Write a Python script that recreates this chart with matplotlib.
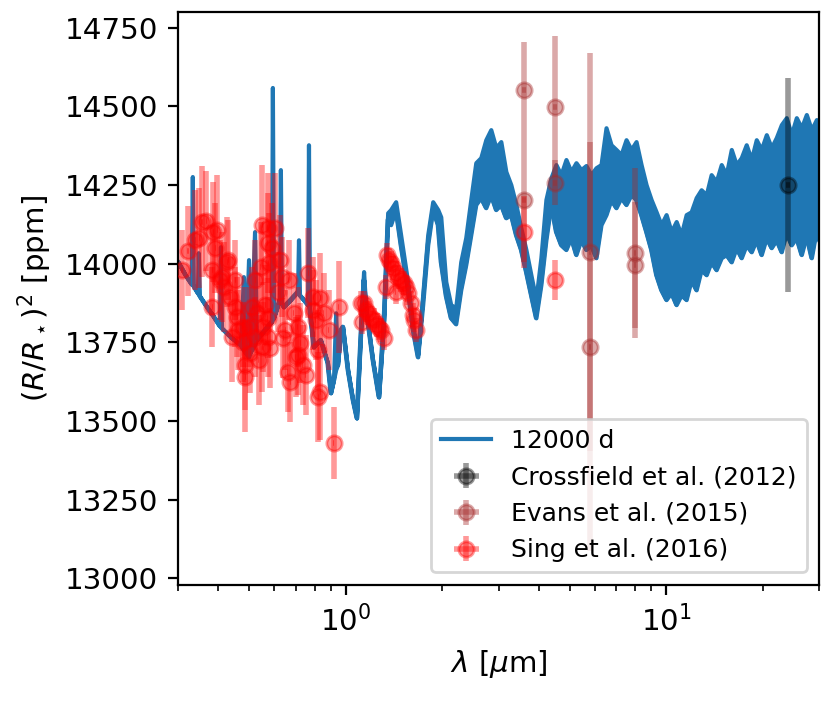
import numpy as np
import matplotlib.pyplot as plt

# model spectrum: wavelength [um], lower and upper envelope [ppm]
model_wl = [0.300, 0.316, 0.330, 0.3325, 0.335, 0.345, 0.347, 0.350, 0.365, 0.384,
            0.404, 0.407, 0.410, 0.437, 0.470, 0.480, 0.487, 0.498, 0.505, 0.520,
            0.527, 0.550, 0.566, 0.587, 0.591, 0.596, 0.622, 0.626, 0.631, 0.640,
            0.673, 0.708, 0.713, 0.718, 0.739, 0.761, 0.766, 0.772, 0.794, 0.835,
            0.878, 0.898, 0.917, 0.931, 0.944, 0.965, 0.979, 1.015, 1.052, 1.082,
            1.114, 1.138, 1.155, 1.214, 1.268, 1.315, 1.353, 1.382, 1.433, 1.485,
            1.563, 1.620, 1.679, 1.740, 1.804, 1.870, 1.939,
            1.981, 2.054, 2.128, 2.206, 2.287, 2.371, 2.458, 2.548, 2.641, 2.738,
            2.838, 2.943, 3.050, 3.162, 3.278, 3.398, 3.522, 3.652, 3.785, 3.924,
            4.067, 4.217, 4.371, 4.531, 4.697, 4.870, 5.048, 5.233, 5.425, 5.623,
            5.829, 6.043, 6.264, 6.494, 6.732, 6.978, 7.234, 7.499, 7.774, 8.058,
            8.354, 8.660, 8.977, 9.306, 9.647, 10.00, 10.37, 10.75, 11.14, 11.55,
            11.97, 12.41, 12.86, 13.34, 13.82, 14.33, 14.86, 15.40, 15.97, 16.55,
            17.16, 17.78, 18.44, 19.11, 19.81, 20.54, 21.29, 22.07, 22.88, 23.71,
            24.58, 25.48, 26.42, 27.38, 28.39, 29.43, 30.00]
model_lo = [14006, 13965, 13936, 13933, 13930, 13908, 13905, 13898, 13870, 13838,
            13803, 13800, 13796, 13768, 13742, 13727, 13717, 13704, 13720, 13742,
            13758, 13781, 13796, 13816, 13822, 13828, 13886, 13886, 13876, 13863,
            13886, 13911, 13917, 13901, 13886, 13870, 13886, 13854, 13736, 13758,
            13685, 13590, 13631, 13663, 13679, 13790, 13800, 13663, 13568, 13510,
            13776, 13949, 13863, 13695, 13577, 13822, 14140, 14124, 14172, 14060,
            13917, 13790, 13704, 13870, 14060, 14172, 14124,
            14006, 13898, 13828, 13809, 13917, 13997, 14092, 14188, 14210, 14178,
            14219, 14172, 14188, 14146, 14156, 14092, 14045, 13975, 13901, 13828,
            13933, 14076, 14188, 14102, 14060, 14045, 14083, 14029, 14076, 14045,
            14060, 14019, 14124, 14156, 14204, 14178, 14210, 14188, 14219, 14204,
            14156, 14102, 14045, 13965, 13917, 13886, 13908, 13870, 13901, 13886,
            13949, 13917, 13981, 13965, 14006, 13981, 14019, 14029, 14006, 14051,
            14019, 14060, 14038, 14076, 14029, 14083, 14051, 14076, 14038, 14099,
            14060, 14083, 14029, 14089, 14019, 14108, 14076]
model_hi = [14006, 13965, 13936, 14277, 13930, 13908, 14035, 13898, 13870, 13838,
            13803, 14054, 13796, 13768, 13742, 13959, 13717, 14013, 13720, 14102,
            13758, 13781, 13796, 13816, 14560, 13828, 13886, 14299, 13876, 13863,
            13886, 13911, 14076, 13901, 13886, 13870, 14378, 13854, 13736, 13758,
            13685, 13590, 13631, 13844, 13679, 13790, 13800, 13663, 13568, 13510,
            13790, 13975, 13863, 13695, 13577, 13822, 14162, 14172, 14197, 14092,
            13940, 13806, 13711, 13901, 14092, 14197, 14172,
            14149, 13943, 13870, 13860, 14006, 14083, 14204, 14321, 14337, 14394,
            14426, 14369, 14388, 14293, 14251, 14188, 14114, 14045, 13965, 13886,
            14019, 14204, 14273, 14315, 14283, 14331, 14293, 14321, 14299, 14312,
            14283, 14305, 14315, 14432, 14378, 14363, 14347, 14394, 14363, 14388,
            14315, 14251, 14204, 14165, 14124, 14156, 14102, 14134, 14092, 14156,
            14165, 14210, 14235, 14219, 14283, 14261, 14315, 14283, 14363, 14315,
            14337, 14378, 14331, 14394, 14363, 14410, 14369, 14401, 14442, 14464,
            14410, 14464, 14432, 14474, 14426, 14458, 14410]

# Sing et al. (2016)
sing_wl = [0.309, 0.323, 0.340, 0.350, 0.357, 0.368, 0.387, 0.398, 0.392, 0.384,
           0.384, 0.413, 0.419, 0.431, 0.437, 0.453, 0.453, 0.460, 0.443, 0.477,
           0.477, 0.487, 0.487, 0.498, 0.505, 0.512, 0.523, 0.531, 0.523, 0.535,
           0.463, 0.428, 0.407, 0.543, 0.550, 0.571, 0.604, 0.571, 0.575, 0.554,
           0.550, 0.571, 0.583, 0.562, 0.571, 0.626, 0.635, 0.617, 0.664, 0.640,
           0.659, 0.673, 0.688, 0.708, 0.713, 0.723, 0.734, 0.750, 0.766, 0.794,
           0.794, 0.806, 0.835, 0.854, 0.885, 0.823, 0.823, 0.835, 0.917, 0.951,
           0.649, 0.698, 0.591,
           1.114, 1.122, 1.138, 1.155, 1.171, 1.197, 1.223, 1.250, 1.268, 1.286,
           1.314, 1.343, 1.363, 1.382, 1.402, 1.433, 1.454, 1.485, 1.334, 1.433,
           1.518, 1.540, 1.563, 1.597, 1.620, 1.632, 1.655,
           3.6, 4.5]
sing_val = [13981, 14041, 14076, 14083, 14134, 14137, 14102, 14108, 14051, 13981,
            13863, 13959, 13927, 14013, 13895, 13949, 13863, 13831, 13768, 13800,
            13752, 13679, 13641, 13800, 13717, 13863, 13768, 13844, 13949, 13695,
            13790, 14006, 13949, 13990, 14124, 14114, 14114, 14067, 14003, 13800,
            13736, 13768, 13733, 13870, 13828, 14013, 13959, 13911, 13949, 13765,
            13657, 13625, 13844, 13800, 13711, 13749, 13679, 13647, 13971, 13895,
            13854, 13822, 13892, 13844, 13790, 13727, 13577, 13593, 13431, 13863,
            13790, 13704, 14051,
            13876, 13816, 13876, 13854, 13844, 13828, 13822, 13806, 13796, 13790,
            13765, 14029, 14013, 14003, 13987, 13971, 13959, 13949, 13927, 13911,
            13940, 13927, 13908, 13876, 13838, 13822, 13790,
            14100, 13949]
sing_err = [127, 143, 159, 159, 175, 159, 159, 175, 143, 143,
            127, 143, 143, 127, 127, 127, 127, 127, 143, 127,
            127, 143, 175, 127, 127, 127, 127, 127, 127, 143,
            127, 143, 127, 143, 191, 175, 175, 159, 159, 143,
            143, 127, 127, 127, 127, 143, 127, 127, 127, 127,
            127, 127, 127, 127, 127, 127, 127, 127, 143, 127,
            127, 127, 143, 127, 127, 127, 143, 153, 114, 146,
            127, 127, 143,
            38, 38, 38, 38, 38, 38, 38, 38, 38, 38,
            38, 38, 38, 38, 38, 38, 38, 38, 38, 38,
            38, 38, 38, 38, 38, 38, 38,
            115, 63]

# Evans et al. (2015)
evans_wl = [3.6, 3.6, 4.5, 4.5, 5.8, 5.8, 8.0, 8.0]
evans_val = [14553, 14204, 14499, 14258, 14038, 13736, 14035, 13995]
evans_err = [150, 200, 223, 70, 632, 650, 270, 200]

# Crossfield et al. (2012)
cross_wl = [24.0]
cross_val = [14250]
cross_err = [340]

plt.rcParams['xtick.labelsize'] = 10.6
plt.rcParams['ytick.labelsize'] = 10.6
plt.rcParams['axes.labelsize'] = 10.6

fig = plt.figure(figsize=(4.145, 3.51), dpi=200)
ax = fig.add_axes([0.2147, 0.167, 0.7733, 0.816])

ax.plot(model_wl, model_lo, color='C0', lw=1.5, label='12000 d', zorder=1)
ax.fill_between(model_wl, model_lo, model_hi, color='C0', lw=1.5, zorder=1)

ax.errorbar(cross_wl, cross_val, yerr=cross_err, xerr=0.3, fmt='o', color='k',
            alpha=0.4, ms=5.5, elinewidth=2, label='Crossfield et al. (2012)', zorder=3)
ax.errorbar(evans_wl, evans_val, yerr=evans_err, xerr=0.05, fmt='o', color='brown',
            alpha=0.4, ms=5.5, elinewidth=2, label='Evans et al. (2015)', zorder=3)
ax.errorbar(sing_wl, sing_val, yerr=sing_err, xerr=0.002, fmt='o', color='red',
            alpha=0.4, ms=5.5, elinewidth=2, label='Sing et al. (2016)', zorder=3)

ax.set_xscale('log')
ax.set_xlim(0.3, 30)
ax.set_ylim(12980, 14800)
ax.set_yticks([13000, 13250, 13500, 13750, 14000, 14250, 14500, 14750])
ax.set_xlabel(r'$\lambda$ [$\mu$m]')
ax.set_ylabel(r'$(R/R_\star)^2$ [ppm]')
ax.legend(loc='lower right', fontsize=9)

fig.savefig('out.png', dpi=200)
